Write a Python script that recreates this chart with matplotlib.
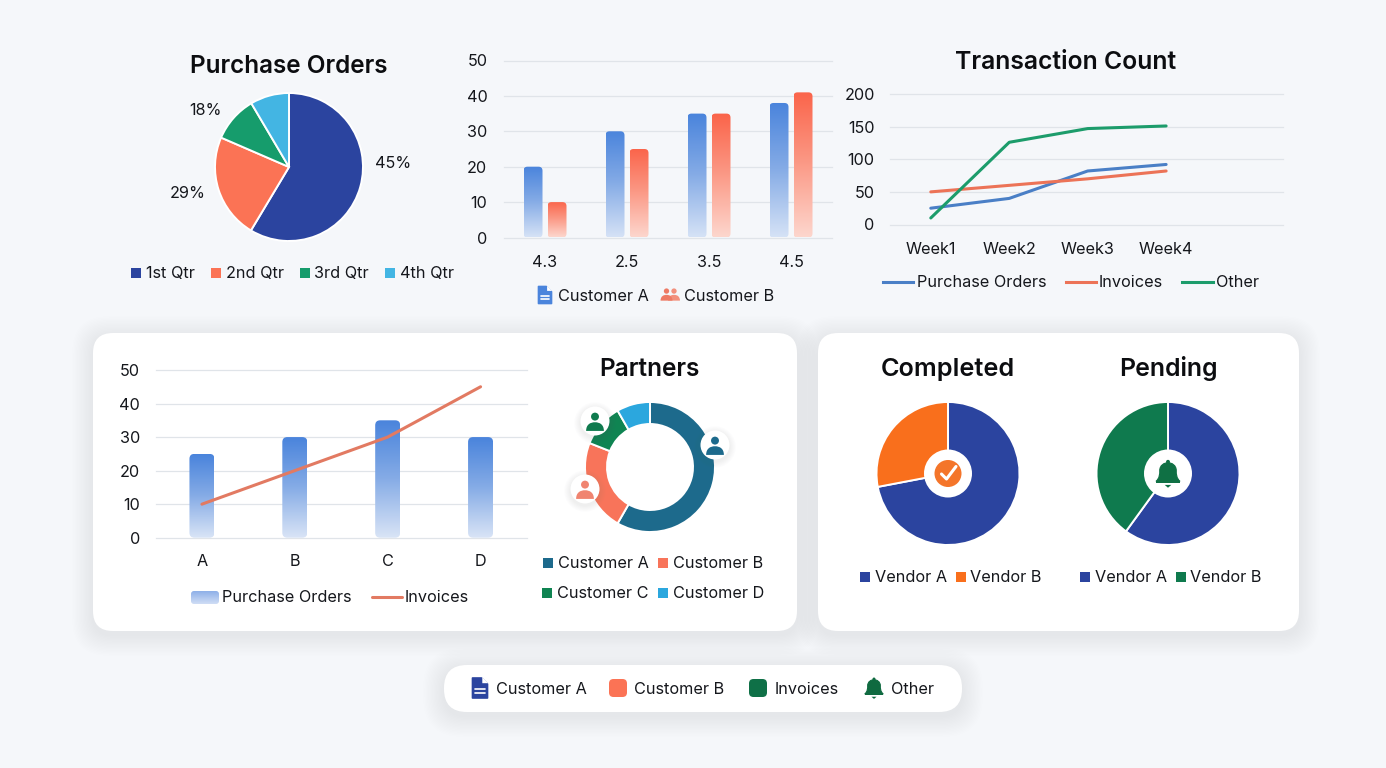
import numpy as np
import matplotlib
matplotlib.use("Agg")
import matplotlib.pyplot as plt
from matplotlib.patches import FancyBboxPatch, Circle, Polygon, PathPatch, Patch, Rectangle
from matplotlib.lines import Line2D
from matplotlib.path import Path
from matplotlib.transforms import IdentityTransform
from matplotlib.colors import LinearSegmentedColormap

# ---------- data ----------
po_labels = ["1st Qtr", "2nd Qtr", "3rd Qtr", "4th Qtr"]
po_values = [58.6, 22.9, 10.0, 8.5]
po_texts = ["45%", "29%", "18%"]

cust_cats = ["4.3", "2.5", "3.5", "4.5"]
cust_a = [20, 30, 35, 38]
cust_b = [10, 25, 35, 41]

weeks = ["Week1", "Week2", "Week3", "Week4"]
tx_po = [25, 40, 82, 92]
tx_inv = [50, 60, 70, 82]
tx_other = [10, 126, 147, 151]

combo_cats = ["A", "B", "C", "D"]
combo_bars = [25, 30, 35, 30]
combo_line = [10, 20, 30, 45]

partner_labels = ["Customer A", "Customer B", "Customer C", "Customer D"]
partner_values = [58.3, 22.7, 10.7, 8.3]

completed_values = [72, 28]
pending_values = [60, 40]
vendor_labels = ["Vendor A", "Vendor B"]

# ---------- style ----------
W, H = 1386, 768
plt.rcParams["font.family"] = ["Inter", "DejaVu Sans"]
INK = "#15171c"
GRID = "#e0e4e9"
BG = "#f5f7fa"
NAVY = "#2b449f"
FS = 11.7
LW = 2.2

fig = plt.figure(figsize=(W / 100, H / 100), dpi=100, facecolor=BG)


def axpx(x0, y0, x1, y1, z=2):
    ax = fig.add_axes([x0 / W, 1 - y1 / H, (x1 - x0) / W, (y1 - y0) / H], zorder=z)
    ax.patch.set_alpha(0)
    return ax


bg = axpx(0, 0, W, H, z=0)
bg.set_xlim(0, W); bg.set_ylim(H, 0); bg.axis("off")
fg = axpx(0, 0, W, H, z=10)
fg.set_xlim(0, W); fg.set_ylim(H, 0); fg.axis("off")


def card(x0, y0, x1, y1, r):
    for i in range(16, 0, -1):
        g = i * 1.3
        bg.add_patch(FancyBboxPatch((x0 - g + r, y0 - g + 4 + r),
                                    x1 - x0 + 2 * g - 2 * r, y1 - y0 + 2 * g - 2 * r,
                                    boxstyle=f"round,pad={r},rounding_size={r + i}",
                                    fc="#6c7a98", ec="none", alpha=0.004))
    bg.add_patch(FancyBboxPatch((x0 + r, y0 + r), x1 - x0 - 2 * r, y1 - y0 - 2 * r,
                                boxstyle=f"round,pad={r},rounding_size={r}", fc="white", ec="none"))


card(93, 333, 797, 631, 20)
card(818, 333, 1299, 631, 20)
card(444, 665, 962, 712, 23)


def title(s, x, y, fs=18.2):
    fg.text(x, y + 9, s, ha="center", va="baseline", fontsize=fs, fontweight="semibold", color="#0c0d10")


def label(s, x, y, ha="left", fs=FS):
    fg.text(x, y + 6, s, ha=ha, va="baseline", fontsize=fs, color=INK)


def squares_legend(labels, colors, cx, cy, cols=2, colsp=1.0):
    handles = [Patch(fc=c, ec="none") for c in colors]
    leg = fg.legend(handles, labels, loc="center", bbox_to_anchor=(cx / W, 1 - cy / H),
                    bbox_transform=fig.transFigure, ncols=cols, frameon=False, fontsize=FS,
                    handlelength=0.6, handleheight=0.6, handletextpad=0.3,
                    columnspacing=colsp, borderpad=0, borderaxespad=0, labelcolor=INK)
    fg.add_artist(leg)
    fg.legend_ = None


def line_legend(labels, colors, cx, cy, colsp=1.2):
    handles = [Line2D([], [], color=c, lw=LW) for c in colors]
    leg = fg.legend(handles, labels, loc="center", bbox_to_anchor=(cx / W, 1 - cy / H),
                    bbox_transform=fig.transFigure, ncols=len(labels), frameon=False, fontsize=FS,
                    handlelength=1.85, handletextpad=0.2, columnspacing=colsp,
                    borderpad=0, borderaxespad=0, labelcolor=INK)
    fg.add_artist(leg)
    fg.legend_ = None


def pie(values, colors, cx, cy, r, inner=None, lw=1.4):
    ax = axpx(cx - r, cy - r, cx + r, cy + r)
    wedgeprops = dict(edgecolor="white", linewidth=lw, clip_on=False)
    if inner:
        wedgeprops["width"] = 1 - inner / r
    ax.pie(values, colors=colors, startangle=90, counterclock=False, radius=1,
           wedgeprops=wedgeprops)
    ax.set_xlim(-1, 1); ax.set_ylim(-1, 1)
    return ax


def cartesian(x0, y0, x1, y1, xlim, ymax, yticks, cats, xpos, xpad, ypad):
    ax = axpx(x0, y0, x1, y1)
    ax.set_xlim(*xlim); ax.set_ylim(0, ymax)
    for s in ax.spines.values():
        s.set_visible(False)
    ax.set_yticks(yticks)
    ax.set_xticks(xpos, cats)
    ax.tick_params(length=0, labelsize=FS, labelcolor=INK)
    ax.tick_params(axis="x", pad=xpad)
    ax.tick_params(axis="y", pad=ypad)
    ax.grid(axis="y", color=GRID, lw=0.9, clip_on=False)
    ax.set_axisbelow(True)
    return ax


def grad_bar(ax, x, width, value, top, mid, low, r=4):
    cmap = LinearSegmentedColormap.from_list("g", [top, mid, low])
    xlim, ylim = ax.get_xlim(), ax.get_ylim()
    im = ax.imshow(np.linspace(0, 1, 128)[:, None], cmap=cmap, aspect="auto",
                   extent=(x - width / 2, x + width / 2, 0, value), origin="upper", zorder=2)
    ax.set_xlim(xlim); ax.set_ylim(ylim)
    (px0, py0), (px1, py1) = ax.transData.transform([(x - width / 2, 0), (x + width / 2, value)])
    clip = FancyBboxPatch((px0 + r, py0 + r), px1 - px0 - 2 * r, py1 - py0 - 2 * r,
                          boxstyle=f"round,pad={r},rounding_size={r}", transform=IdentityTransform())
    im.set_clip_path(clip)


def person(x, y, s, color, z=13):
    fg.add_patch(Circle((x, y - 0.42 * s), 0.38 * s, fc=color, ec="none", zorder=z))
    verts = [(-1, .95), (-1, .35), (-.55, .12), (0, .12), (.55, .12), (1, .35), (1, .95), (-1, .95)]
    codes = [Path.MOVETO, Path.CURVE4, Path.CURVE4, Path.CURVE4, Path.CURVE4, Path.CURVE4, Path.CURVE4, Path.CLOSEPOLY]
    fg.add_patch(PathPatch(Path([(x + a * s * .85, y + b * s) for a, b in verts], codes),
                           fc=color, ec="none", zorder=z))


def badge(x, y, r, color):
    for i in range(8, 0, -1):
        fg.add_patch(Circle((x, y + 2), r + i * 0.8, fc="#6a7488", ec="none", alpha=0.012, zorder=12))
    fg.add_patch(Circle((x, y), r, fc="white", ec="none", zorder=12))
    person(x, y, r * 0.72, color)


def bell(x, y, s, color, z=13):
    v = [(-.8, .52), (-.55, .3), (-.55, .05), (-.55, -.2), (-.55, -.55), (-.25, -.72), (0, -.72),
         (.25, -.72), (.55, -.55), (.55, -.2), (.55, .05), (.55, .3), (.8, .52), (-.8, .52)]
    c = [Path.MOVETO] + [Path.CURVE4] * 12 + [Path.CLOSEPOLY]
    fg.add_patch(PathPatch(Path([(x + a * s, y + b * s) for a, b in v], c), fc=color, ec=color, lw=0.8, zorder=z))
    fg.add_patch(Rectangle((x - .8 * s, y + .5 * s), 1.6 * s, .12 * s, fc=color, ec="none", zorder=z))
    fg.add_patch(Circle((x, y - .78 * s), .13 * s, fc=color, ec="none", zorder=z))
    fg.add_patch(Polygon([(x - .22 * s, y + .76 * s), (x + .22 * s, y + .76 * s), (x, y + .95 * s)],
                         fc=color, ec="none", zorder=z))


def doc(x, y, w, h, color):
    f = w * 0.8
    fg.add_patch(Polygon([(x - w, y - h), (x + w - f, y - h), (x + w, y - h + f), (x + w, y + h), (x - w, y + h)],
                         closed=True, fc=color, ec=color, lw=1.2, joinstyle="round", zorder=13))
    fg.add_patch(Polygon([(x + w - f + .8, y - h - .6), (x + w + .6, y - h + f - .8), (x + w - f + .8, y - h + f - .8)],
                         closed=True, fc="white", ec="none", zorder=14))
    for dy, frac in ((.12, .62), (.5, .62)):
        fg.plot([x - w * frac, x + w * frac], [y + h * dy, y + h * dy], color="white", lw=1.2,
                solid_capstyle="round", zorder=14)


# ---------- Purchase Orders ----------
title("Purchase Orders", 289, 64, fs=17.5)
po_cols = ["#2b449f", "#fb7355", "#169c6c", "#43b5e3"]
pie(po_values, po_cols, 289, 167, 74)
for txt, (x, y) in zip(po_texts, [(393, 162), (188, 192), (205, 109)]):
    label(txt, x, y, ha="center")
squares_legend(po_labels, po_cols, 292.5, 274, cols=4, colsp=1.0)

# ---------- Customer bars ----------
ax = cartesian(504, 60.5, 832, 237.5, (-0.5, 3.5), 50, [0, 10, 20, 30, 40, 50], cust_cats,
               np.arange(4), 12.5, 12)
bw, off = 19 / 82, 12 / 82
for i in range(4):
    grad_bar(ax, i - off, bw, cust_a[i], "#4a84dc", "#86ace6", "#d5e2f6")
    grad_bar(ax, i + off, bw, cust_b[i], "#fa644a", "#fb9a87", "#fdd6cd")
doc(545, 295, 6.5, 8.5, "#4a84dc")
label("Customer A", 558, 295)
person(666.5, 294, 7, "#ee7a64")
person(674, 294, 7, "#f2907d", z=12)
label("Customer B", 684, 295)

# ---------- Transaction Count ----------
title("Transaction Count", 1066, 60, fs=17.8)
ax = cartesian(890, 94, 1283, 224.5, (-0.52, 4.49), 200, [0, 50, 100, 150, 200], weeks,
               np.arange(4), 12.5, 11)
xs = np.arange(4)
ax.plot(xs, tx_po, color="#4a7fc6", lw=LW, solid_capstyle="round", zorder=3)
ax.plot(xs, tx_inv, color="#ec7357", lw=LW, solid_capstyle="round", zorder=3)
ax.plot(xs, tx_other, color="#1c9c6b", lw=LW, solid_capstyle="round", zorder=3)
line_legend(["Purchase Orders", "Invoices", "Other"], ["#4a7fc6", "#ec7357", "#1c9c6b"], 1071, 283)

# ---------- Combo ----------
ax = cartesian(155.5, 370, 527, 537.7, (-0.5, 3.5), 50, [0, 10, 20, 30, 40, 50], combo_cats,
               np.arange(4), 11.5, 11)
for i in range(4):
    grad_bar(ax, i, 25 / 92.9, combo_bars[i], "#4a84dc", "#86ace6", "#d9e4f6", r=5)
ax.plot(np.arange(4), combo_line, color="#e27a62", lw=LW, solid_capstyle="round", zorder=4)
cm = LinearSegmentedColormap.from_list("lg", ["#8fb0e8", "#cfddf5"])
im = fg.imshow(np.linspace(0, 1, 32)[:, None], cmap=cm, aspect="auto", extent=(191, 219, 604, 591),
               origin="upper", zorder=11)
im.set_clip_path(FancyBboxPatch((194, 594), 22, 7, boxstyle="round,pad=3,rounding_size=3",
                                transform=fg.transData))
fg.set_xlim(0, W); fg.set_ylim(H, 0)
label("Purchase Orders", 222, 596)
fg.plot([372, 402], [596.5, 596.5], color="#e27a62", lw=LW, solid_capstyle="round", zorder=11)
label("Invoices", 405, 596)

# ---------- Partners ----------
title("Partners", 649, 367, fs=17.6)
part_cols = ["#1d6a8c", "#f8745a", "#0f8452", "#2ba7de"]
pie(partner_values, part_cols, 650, 467, 65, inner=43)
badge(715, 445, 14.5, "#1d6a8c")
badge(595, 421, 14.5, "#0f7a4e")
badge(585, 489, 14.5, "#f08470")
squares_legend(partner_labels[:2], part_cols[:2], 653, 564, cols=2, colsp=0.6)
squares_legend(partner_labels[2:], part_cols[2:], 653, 594, cols=2, colsp=0.6)

# ---------- Completed / Pending ----------
title("Completed", 948, 367)
pie(completed_values, [NAVY, "#f96f1c"], 948, 473.5, 71.5)
fg.add_patch(Circle((948, 473.5), 24, fc="white", ec="none", zorder=12))
fg.add_patch(Circle((948, 473.5), 13.5, fc="#f4752a", ec="none", zorder=13))
fg.plot([941.5, 946.5, 956], [474, 479, 466.5], color="white", lw=2.2, solid_capstyle="round",
        solid_joinstyle="round", zorder=14)
squares_legend(vendor_labels, [NAVY, "#f96f1c"], 951, 578, cols=2, colsp=0.55)

title("Pending", 1168, 367, fs=17.9)
pie(pending_values, [NAVY, "#0f7a4e"], 1168, 473.5, 71.5)
fg.add_patch(Circle((1168, 473.5), 24, fc="white", ec="none", zorder=12))
bell(1168, 473.5, 15, "#0f7044")
squares_legend(vendor_labels, [NAVY, "#0f7a4e"], 1171, 578, cols=2, colsp=0.55)

# ---------- Bottom pill ----------
doc(480, 688, 7.5, 10, NAVY)
label("Customer A", 496, 688)
for x, c in ((618, "#fb7355"), (758, "#0f7047")):
    fg.add_patch(FancyBboxPatch((x - 5, 683), 10, 10, boxstyle="round,pad=4,rounding_size=4.5",
                                fc=c, ec="none", zorder=13))
label("Customer B", 634, 688)
label("Invoices", 775, 688)
bell(874, 688, 11.5, "#0f6a40")
label("Other", 891, 688)

fig.savefig("out.png", dpi=100, facecolor=BG)
